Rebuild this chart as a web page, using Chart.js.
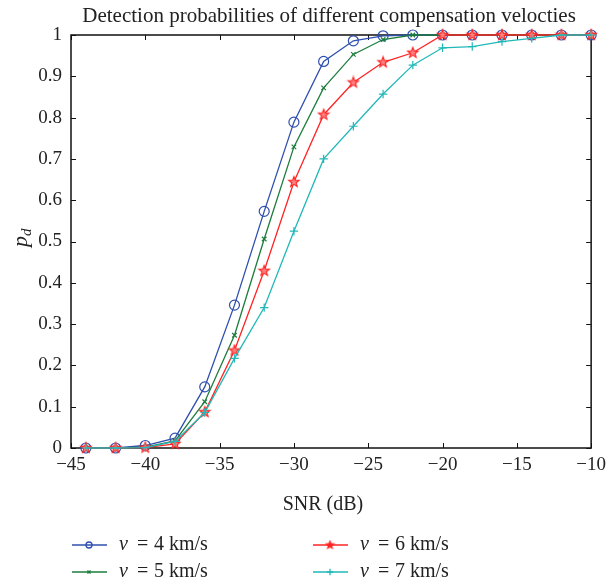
<!DOCTYPE html>
<html>
<head>
<meta charset="utf-8">
<script src="https://cdn.jsdelivr.net/npm/chart.js@4"></script>
<style>
  html, body { margin: 0; padding: 0; background: #fff; }
  #wrap { width: 612px; height: 584px; }
</style>
</head>
<body>
<div id="wrap"><canvas id="chart" width="612" height="584"></canvas></div>
<script>
// SNR values (dB) and detection probabilities for each compensation velocity
const snr = [-44, -42, -40, -38, -36, -34, -32, -30, -28, -26, -24, -22, -20, -18, -16, -14, -12, -10];
const pd4 = [0, 0, 0.006, 0.024, 0.148, 0.346, 0.573, 0.789, 0.936, 0.986, 0.998, 1, 1, 1, 1, 1, 1, 1];
const pd5 = [0, 0, 0.002, 0.017, 0.112, 0.273, 0.506, 0.729, 0.872, 0.953, 0.989, 1, 1, 1, 1, 1, 1, 1];
const pd6 = [0, 0, 0.001, 0.010, 0.087, 0.236, 0.429, 0.644, 0.807, 0.885, 0.934, 0.957, 1, 1, 1, 1, 1, 1];
const pd7 = [0, 0, 0.001, 0.016, 0.086, 0.217, 0.340, 0.525, 0.700, 0.779, 0.857, 0.927, 0.969, 0.972, 0.984, 0.992, 1, 1];
const seriesLabels = ['4', '5', '6', '7'];

const xTicks = [-45, -40, -35, -30, -25, -20, -15, -10];

const TITLE = 'Detection probabilities of different compensation velocties';
const SERIF = "'Liberation Serif', 'DejaVu Serif', serif";
const COLORS = ['#2e4fae', '#1d7d3c', '#ff2424', '#22b8b8'];

// pentagram marker for the v = 6 km/s curve
function makeStar(r, fill, stroke) {
  const c = document.createElement('canvas');
  const s = Math.ceil(r * 2 + 3);
  c.width = s; c.height = s;
  const g = c.getContext('2d');
  g.beginPath();
  for (let i = 0; i < 10; i++) {
    const rr = i % 2 === 0 ? r : r * 0.42;
    const a = -Math.PI / 2 + i * Math.PI / 5;
    const px = s / 2 + rr * Math.cos(a), py = s / 2 + rr * Math.sin(a);
    i ? g.lineTo(px, py) : g.moveTo(px, py);
  }
  g.closePath();
  g.fillStyle = fill; g.fill();
  g.lineWidth = 1.1; g.strokeStyle = stroke; g.stroke();
  return c;
}
const starBig = makeStar(5.5, '#ff8080', COLORS[2]);
const starSmall = makeStar(4, COLORS[2], COLORS[2]);

const pts = arr => snr.map((x, i) => ({ x, y: arr[i] }));

const markers = [
  { style: 'circle', radius: 5, legend: 'circle', legendRadius: 3 },
  { style: 'crossRot', radius: 3.2, legend: 'crossRot', legendRadius: 2.2 },
  { style: starBig, radius: 5, legend: starSmall, legendRadius: 4 },
  { style: 'cross', radius: 4.2, legend: 'cross', legendRadius: 3.2 }
];

const datasets = [pd4, pd5, pd6, pd7].map((arr, i) => ({
  label: 'v = ' + seriesLabels[i] + ' km/s',
  data: pts(arr),
  borderColor: COLORS[i],
  backgroundColor: 'rgba(0,0,0,0)',
  borderWidth: 1.3,
  pointStyle: markers[i].style,
  pointRadius: markers[i].radius,
  pointBorderColor: COLORS[i],
  pointBackgroundColor: 'rgba(0,0,0,0)',
  pointBorderWidth: 1.2,
  tension: 0,
  clip: false,
  order: 4 - i
}));

// box, inward ticks, titles and legend (matlab look)
const decor = {
  id: 'decor',
  beforeDatasetsDraw(chart) {
    const { ctx, chartArea: a, scales } = chart;
    ctx.save();
    ctx.strokeStyle = '#111';
    ctx.lineWidth = 1;
    const tl = 5;
    scales.x.ticks.forEach(t => {
      const px = Math.round(scales.x.getPixelForValue(t.value)) + 0.5;
      ctx.beginPath();
      ctx.moveTo(px, a.bottom); ctx.lineTo(px, a.bottom - tl);
      ctx.moveTo(px, a.top); ctx.lineTo(px, a.top + tl);
      ctx.stroke();
    });
    scales.y.ticks.forEach(t => {
      const py = Math.round(scales.y.getPixelForValue(t.value)) + 0.5;
      ctx.beginPath();
      ctx.moveTo(a.left, py); ctx.lineTo(a.left + tl, py);
      ctx.moveTo(a.right, py); ctx.lineTo(a.right - tl, py);
      ctx.stroke();
    });
    ctx.lineWidth = 1.5;
    ctx.strokeRect(a.left, a.top, a.right - a.left, a.bottom - a.top);
    ctx.restore();
  },
  afterDraw(chart) {
    const { ctx, chartArea: a } = chart;
    ctx.save();
    ctx.fillStyle = '#222';

    // title over the plot box
    ctx.font = '21px ' + SERIF;
    ctx.textAlign = 'center';
    ctx.textBaseline = 'middle';
    ctx.fillText(TITLE, (a.left + a.right) / 2 - 2, 16);

    // y title: p_d
    ctx.save();
    ctx.translate(27, 238);
    ctx.rotate(-Math.PI / 2);
    ctx.textBaseline = 'alphabetic';
    ctx.textAlign = 'left';
    ctx.font = 'italic 22px ' + SERIF;
    const pw = ctx.measureText('p').width;
    ctx.fillText('p', -9, 0);
    ctx.font = 'italic 15px ' + SERIF;
    ctx.fillText('d', -9 + pw, 4);
    ctx.restore();

    // x title
    ctx.font = '20px ' + SERIF;
    ctx.textAlign = 'center';
    ctx.textBaseline = 'middle';
    ctx.fillText('SNR (dB)', 323, 505);

    // legend, two columns
    const slots = [
      { x: 72, y: 545 }, { x: 72, y: 572 },
      { x: 313, y: 545 }, { x: 313, y: 572 }
    ];
    chart.data.datasets.forEach((ds, i) => {
      const s = slots[i];
      ctx.strokeStyle = COLORS[i];
      ctx.fillStyle = i === 0 ? 'rgba(0,0,0,0)' : COLORS[i];
      ctx.lineWidth = 1.5;
      ctx.beginPath();
      ctx.moveTo(s.x, s.y); ctx.lineTo(s.x + 35, s.y);
      ctx.stroke();
      ctx.lineWidth = 1.3;
      Chart.helpers.drawPoint(ctx, {
        pointStyle: markers[i].legend,
        radius: markers[i].legendRadius,
        rotation: 0,
        borderWidth: 1.3
      }, s.x + 17, s.y);
      ctx.fillStyle = '#222';
      ctx.textAlign = 'left';
      ctx.textBaseline = 'middle';
      const tx = s.x + 47;
      ctx.font = 'italic 20px ' + SERIF;
      ctx.fillText('\u03bd', tx, s.y);
      ctx.font = '20px ' + SERIF;
      ctx.fillText('=', tx + 18, s.y);
      ctx.fillText(seriesLabels[i], tx + 35, s.y);
      ctx.fillText('km/s', tx + 50, s.y);
    });
    ctx.restore();
  }
};

new Chart(document.getElementById('chart').getContext('2d'), {
  type: 'line',
  data: { datasets },
  options: {
    responsive: false,
    animation: false,
    devicePixelRatio: 1,
    layout: { padding: { left: 0, right: 16, top: 35, bottom: 112 } },
    plugins: {
      legend: { display: false },
      tooltip: { enabled: false },
      title: { display: false }
    },
    scales: {
      x: {
        type: 'linear',
        min: -45, max: -10,
        afterBuildTicks: s => { s.ticks = xTicks.map(v => ({ value: v })); },
        afterFit: s => { s.height = 24; },
        grid: { display: false, drawTicks: false },
        border: { display: false },
        ticks: {
          color: '#222',
          padding: 6,
          maxRotation: 0,
          font: { family: SERIF, size: 19 },
          callback: v => v < 0 ? '\u2212' + Math.abs(v) : String(v)
        }
      },
      y: {
        min: 0, max: 1,
        afterFit: s => { s.width = 71; },
        grid: { display: false, drawTicks: false },
        border: { display: false },
        ticks: {
          stepSize: 0.1,
          color: '#222',
          padding: 9,
          font: { family: SERIF, size: 19 },
          callback: v => (v === 0 || v === 1) ? String(v) : v.toFixed(1)
        }
      }
    }
  },
  plugins: [decor]
});
</script>
</body>
</html>
